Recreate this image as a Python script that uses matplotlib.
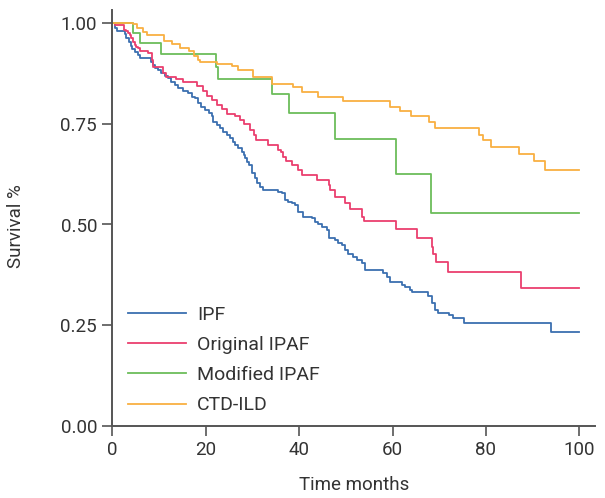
import matplotlib
matplotlib.use("Agg")
import matplotlib.pyplot as plt

plt.rcParams['font.family'] = ['Roboto', 'DejaVu Sans']

# ---- data ----
ipf_t = [0, 0.6, 1.1, 2.3, 2.7, 3.0, 3.5, 3.9, 4.2, 4.8, 5.4, 5.9, 8.3, 8.7, 9.1, 9.8, 10.5,
         11.2, 11.9, 12.6, 13.4, 14.1, 15.1, 16.2, 17.0, 17.7, 18.4, 19.1, 19.9, 20.6, 21.3,
         21.6, 22.4, 23.1, 23.8, 24.5, 25.2, 25.8, 26.3, 27.0, 27.7, 28.1, 28.4, 28.9, 29.3,
         29.9, 30.6, 30.9, 31.6, 32.3, 35.5, 36.3, 37.0, 37.7, 38.4, 39.1, 39.8, 40.9, 42.7,
         43.4, 44.1, 44.8, 46.0, 46.3, 47.7, 48.4, 49.1, 49.8, 50.5, 51.5, 52.3, 53.4, 54.1,
         58.0, 58.8, 59.5, 62.0, 62.7, 63.7, 64.1, 67.7, 68.4, 69.1, 69.8, 72.0, 73.0, 75.3,
         93.9, 100]
ipf_s = [1.0, 0.987, 0.981, 0.979, 0.972, 0.964, 0.954, 0.944, 0.935, 0.927, 0.921, 0.914,
         0.904, 0.896, 0.888, 0.883, 0.875, 0.869, 0.863, 0.854, 0.846, 0.839, 0.831, 0.826,
         0.817, 0.813, 0.801, 0.792, 0.784, 0.776, 0.768, 0.755, 0.747, 0.739, 0.730, 0.722,
         0.714, 0.705, 0.697, 0.689, 0.681, 0.672, 0.664, 0.656, 0.648, 0.627, 0.615, 0.602,
         0.594, 0.586, 0.581, 0.577, 0.561, 0.557, 0.553, 0.548, 0.532, 0.519, 0.515, 0.507,
         0.501, 0.495, 0.486, 0.466, 0.462, 0.455, 0.449, 0.437, 0.428, 0.419, 0.412, 0.404,
         0.387, 0.379, 0.370, 0.358, 0.350, 0.344, 0.337, 0.333, 0.323, 0.306, 0.288, 0.281,
         0.275, 0.267, 0.255, 0.233, 0.233]

orig_t = [0, 0.5, 2.5, 3.0, 3.4, 3.7, 4.1, 4.4, 4.8, 5.1, 5.5, 5.9, 7.6, 8.5, 8.8, 10.9,
          11.6, 13.7, 15.2, 18.1, 19.5, 20.2, 21.3, 22.4, 23.4, 24.5, 26.3, 27.3, 28.3, 29.5,
          30.3, 30.8, 33.4, 35.5, 36.1, 36.5, 37.3, 38.4, 39.8, 40.6, 43.8, 46.3, 46.6, 47.7,
          49.8, 50.9, 53.4, 53.9, 60.8, 65.3, 68.4, 68.7, 69.4, 71.8, 87.5, 100]
orig_s = [1.0, 0.995, 0.983, 0.980, 0.974, 0.969, 0.962, 0.954, 0.945, 0.941, 0.937, 0.930,
          0.925, 0.908, 0.892, 0.877, 0.866, 0.860, 0.854, 0.844, 0.832, 0.819, 0.809, 0.797,
          0.786, 0.774, 0.768, 0.759, 0.749, 0.735, 0.722, 0.710, 0.697, 0.685, 0.681, 0.668,
          0.658, 0.648, 0.635, 0.623, 0.610, 0.598, 0.586, 0.567, 0.553, 0.538, 0.519, 0.508,
          0.488, 0.466, 0.445, 0.428, 0.408, 0.383, 0.342, 0.342]

mod_t = [0, 4.5, 5.9, 10.4, 22.3, 22.7, 34.1, 37.9, 47.7, 60.8, 68.2, 100]
mod_s = [1.0, 0.975, 0.950, 0.923, 0.892, 0.862, 0.823, 0.776, 0.711, 0.625, 0.528, 0.528]

ctd_t = [0, 4.5, 5.3, 6.6, 7.5, 11.0, 12.8, 14.6, 16.4, 17.5, 18.3, 18.7, 22.5, 25.6, 27.0,
         30.2, 34.2, 38.6, 40.6, 44.1, 49.5, 59.5, 61.5, 64.0, 67.8, 69.2, 78.5, 79.4, 81.0,
         87.0, 90.2, 92.7, 100]
ctd_s = [1.0, 0.997, 0.987, 0.978, 0.970, 0.956, 0.949, 0.939, 0.930, 0.919, 0.909, 0.902,
         0.899, 0.893, 0.884, 0.867, 0.849, 0.840, 0.828, 0.817, 0.807, 0.792, 0.782, 0.768,
         0.755, 0.739, 0.722, 0.709, 0.692, 0.675, 0.657, 0.634, 0.634]

labels = ["IPF", "Original IPAF", "Modified IPAF", "CTD-ILD"]
colors = ["#3b6fb0", "#ea3f6e", "#6cbd5a", "#f9b042"]
x_ticks = [0, 20, 40, 60, 80, 100]
y_ticks = [0.0, 0.25, 0.5, 0.75, 1.0]
y_tick_labels = ["0.00", "0.25", "0.50", "0.75", "1.00"]

# ---- figure ----
W, H = 605, 498
fig = plt.figure(figsize=(W / 100, H / 100), dpi=100)
ax = fig.add_axes([112.3 / W, (H - 426) / H, (595 - 112.3) / W, (426 - 10) / H])

series = [(ipf_t, ipf_s), (orig_t, orig_s), (mod_t, mod_s), (ctd_t, ctd_s)]
for (t, s), lab, c in zip(series, labels, colors):
    ax.step(t, s, where='post', color=c, lw=1.3, label=lab)

ax.set_xlim(0, (595 - 112.3) / 4.67)
ax.set_ylim(0, 416 / 403)
ax.set_xticks(x_ticks)
ax.set_yticks(y_ticks)
ax.set_yticklabels(y_tick_labels)

spine_c = "#555555"
for side in ["top", "right"]:
    ax.spines[side].set_visible(False)
for side in ["left", "bottom"]:
    ax.spines[side].set_color(spine_c)
    ax.spines[side].set_linewidth(1.4)
ax.tick_params(axis='both', direction='out', length=7, width=1.2, color=spine_c,
               labelsize=13.5, labelcolor="#333333", pad=4)

ax.set_xlabel("Time months", fontsize=13.5, color="#333333", labelpad=12)
ax.set_ylabel("Survival %", fontsize=13.5, color="#333333")
ax.yaxis.set_label_coords(-0.18, 0.481)

leg = ax.legend(loc='upper left', bbox_to_anchor=(0.0325, 0.288), frameon=False,
                fontsize=14, handlelength=3.0, handletextpad=0.55, labelspacing=0.62,
                borderpad=0, borderaxespad=0)
for txt in leg.get_texts():
    txt.set_color("#333333")

fig.savefig("out.png", dpi=100)
